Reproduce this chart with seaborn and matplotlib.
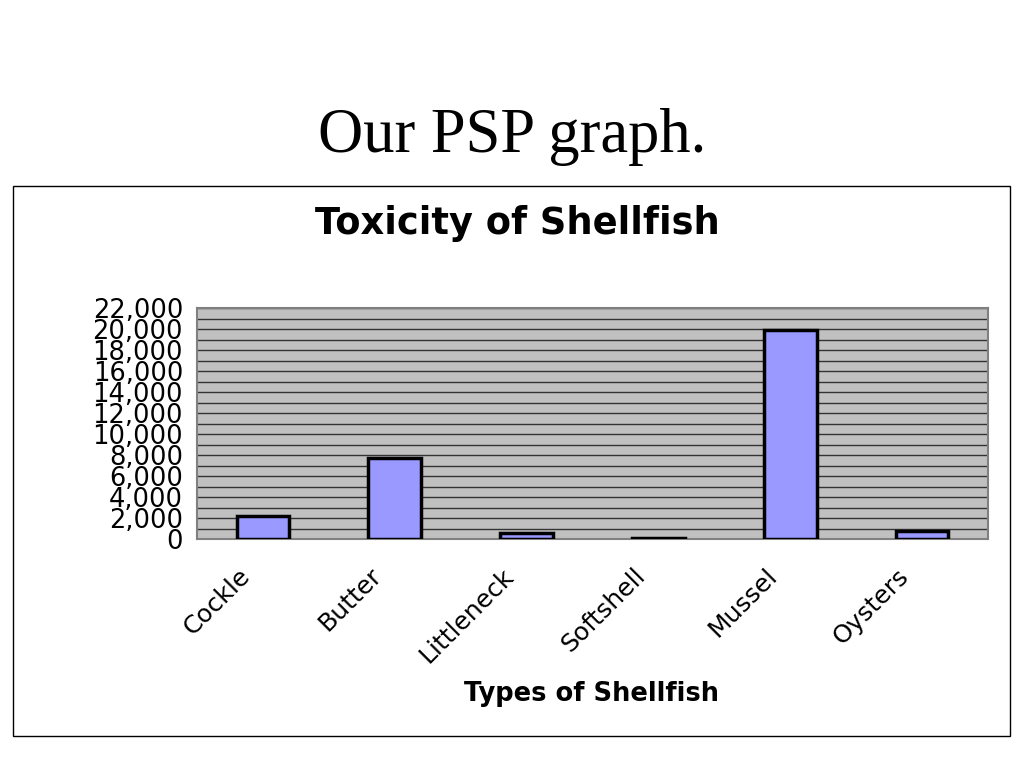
import matplotlib
matplotlib.use("Agg")
import matplotlib.pyplot as plt
import matplotlib.patches as mpatches
from matplotlib.ticker import FuncFormatter, MultipleLocator, NullFormatter
import seaborn as sns
import pandas as pd

# values
shellfish = ["Cockle", "Butter", "Littleneck", "Softshell", "Mussel", "Oysters"]
toxicity = [2200, 7700, 550, 100, 19900, 800]

sns.set_style("white")
plt.rcParams['font.family'] = ['DejaVu Sans']
plt.rcParams['text.color'] = 'black'
plt.rcParams['xtick.color'] = 'black'
plt.rcParams['ytick.color'] = 'black'

W, H = 1024, 768
fig = plt.figure(figsize=(W / 100, H / 100), dpi=100)

# slide title and chart frame
fig.text(512 / W, 1 - 137 / H, "Our PSP graph.", ha="center", va="center",
         fontsize=45, family="Liberation Serif")
fig.patches.append(mpatches.Rectangle((13 / W, 1 - 736 / H), 997 / W, 550 / H,
                                      transform=fig.transFigure, fill=False,
                                      edgecolor="black", linewidth=1))

ax = fig.add_axes([197 / W, 1 - 539 / H, (988 - 197) / W, (539 - 308) / H])
df = pd.DataFrame({"shellfish": shellfish, "toxicity": toxicity})
sns.barplot(data=df, x="shellfish", y="toxicity", color="#9999FF", saturation=1,
            width=0.4, edgecolor="black", linewidth=2.5, ax=ax, zorder=3)

ax.set_facecolor("#C0C0C0")
ax.set_ylim(0, 22000)
ax.set_xlim(-0.5, len(shellfish) - 0.5)
ax.yaxis.set_major_locator(MultipleLocator(2000))
ax.yaxis.set_minor_locator(MultipleLocator(1000))
ax.yaxis.set_major_formatter(FuncFormatter(lambda v, p: f"{int(v):,}"))
ax.grid(axis="y", which="both", color="#333333", linewidth=1, zorder=0)
ax.set_axisbelow(True)

# tick marks sit on category boundaries; the rotated names are placed
# left of each category centre like the original Excel chart
ax.set_xticks([i - 0.5 for i in range(len(shellfish) + 1)])
ax.xaxis.set_major_formatter(NullFormatter())
for i, name in enumerate(shellfish):
    ax.annotate(name, xy=(i, 0), xycoords=("data", "axes fraction"),
                xytext=(-18, -17.7), textcoords="offset points",
                rotation=45, ha="right", va="top", rotation_mode="anchor",
                fontsize=18)
ax.tick_params(axis="x", which="major", direction="out", length=7, color="#808080")
ax.tick_params(axis="y", which="major", direction="out", length=6, color="#808080",
               labelsize=18.5, pad=4)
ax.tick_params(axis="y", which="minor", length=0)
for s in ax.spines.values():
    s.set_color("#808080")
    s.set_linewidth(1.5)

ax.set_xlabel("")
ax.set_ylabel("")
fig.text(517 / W, 1 - 224 / H, "Toxicity of Shellfish", ha="center", va="center",
         fontsize=26.5, fontweight="bold")
fig.text(591 / W, 1 - 694 / H, "Types of Shellfish", ha="center", va="center",
         fontsize=18.5, fontweight="bold")

fig.savefig("out.png", dpi=100)
